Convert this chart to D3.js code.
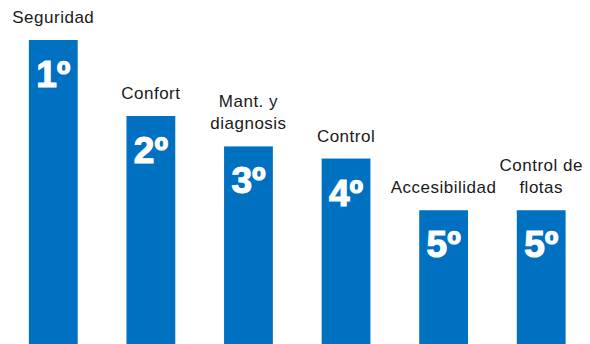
<!DOCTYPE html>
<html>
<head>
<meta charset="utf-8">
<script src="https://cdn.jsdelivr.net/npm/d3@7"></script>
<style>
  html, body { margin: 0; padding: 0; background: #ffffff; }
  svg { display: block; }
</style>
</head>
<body>
<svg id="chart" width="590" height="344"></svg>
<script>
// Priority ranking of vehicle features
const categories = ["Seguridad", "Confort", "Mant. y diagnosis", "Control", "Accesibilidad", "Control de flotas"];
const labelLines = [["Seguridad"], ["Confort"], ["Mant. y", "diagnosis"], ["Control"], ["Accesibilidad"], ["Control de", "flotas"]];
const ranks = ["1º", "2º", "3º", "4º", "5º", "5º"];
const values = [100, 75, 65, 61, 44, 44];

const width = 590, height = 344;
const barColor = "#0070c0";

const svg = d3.select("#chart");

const x = d3.scaleBand()
  .domain(categories)
  .range([4.5, 590])
  .paddingInner(0.5)
  .paddingOuter(0.25);

const y = d3.scaleLinear()
  .domain([0, 100])
  .range([height, 40]);

const g = svg.append("g");

// bars
g.selectAll("rect.bar")
  .data(categories)
  .join("rect")
  .attr("class", "bar")
  .attr("x", d => x(d))
  .attr("y", (d, i) => y(values[i]))
  .attr("width", x.bandwidth())
  .attr("height", (d, i) => y(0) - y(values[i]))
  .attr("fill", barColor);

// rank inside each bar
g.selectAll("text.rank")
  .data(categories)
  .join("text")
  .attr("class", "rank")
  .attr("x", d => x(d) + x.bandwidth() / 2)
  .attr("y", (d, i) => y(values[i]) + 47)
  .attr("text-anchor", "middle")
  .attr("fill", "#ffffff")
  .attr("stroke", "#ffffff")
  .attr("stroke-width", 1.2)
  .attr("stroke-linejoin", "miter")
  .style("font-family", "'Liberation Sans', Arial, sans-serif")
  .style("font-weight", "bold")
  .style("font-size", "37px")
  .text((d, i) => ranks[i]);

// category labels above each bar
const lineHeight = 22;
g.selectAll("text.label")
  .data(categories)
  .join("text")
  .attr("class", "label")
  .attr("text-anchor", "middle")
  .attr("fill", "#1a1a1a")
  .style("font-family", "'Liberation Sans', Arial, sans-serif")
  .style("font-size", "17px")
  .style("letter-spacing", "0.5px")
  .each(function (d, i) {
    const lines = labelLines[i];
    const cx = x(d) + x.bandwidth() / 2;
    const baseY = y(values[i]) - 17 - (lines.length - 1) * lineHeight;
    d3.select(this).selectAll("tspan")
      .data(lines)
      .join("tspan")
      .attr("x", cx)
      .attr("y", (l, j) => baseY + j * lineHeight)
      .text(l => l);
  });
</script>
</body>
</html>
